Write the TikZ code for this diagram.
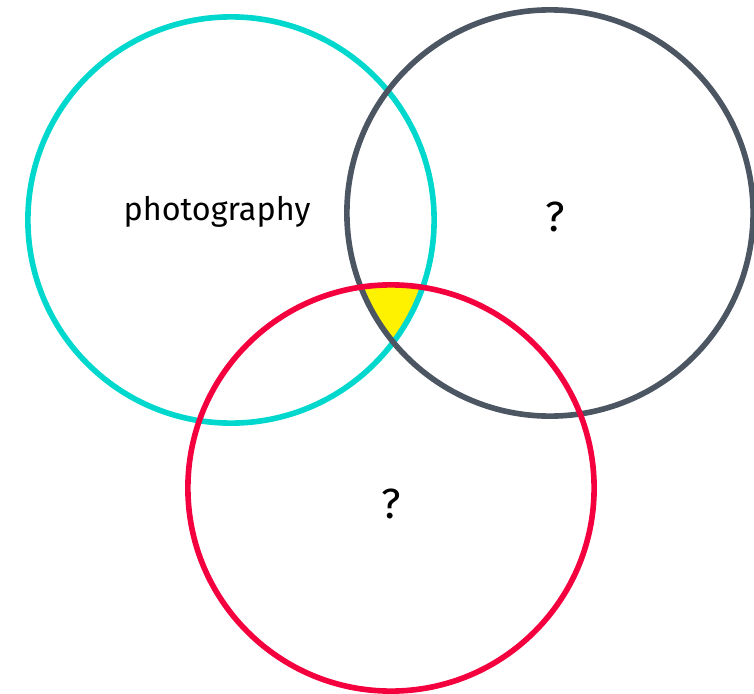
\documentclass[tikz,border=0pt]{standalone}
\usepackage{fontspec}
\setmainfont{Fira Sans}
\usepackage{xcolor}
\usetikzlibrary{positioning, backgrounds}

\definecolor{setcyan}{HTML}{00D8CE}
\definecolor{setgray}{HTML}{4C5562}
\definecolor{setred}{HTML}{F4003E}

\begin{document}
\begin{tikzpicture}[
  x=0.01cm, y=-0.01cm,
  set/.style={circle, draw, line width=1.6pt, minimum size=4.06cm, inner sep=0pt},
  word/.style={font=\fontsize{9.2}{11}\selectfont},
  ask/.style={font=\fontsize{12}{14}\selectfont}
]
\useasboundingbox (0, 0) rectangle (754, 694);

% three sets
\coordinate (cphoto) at (231, 220);
\coordinate (cright) at (550, 213);
\coordinate (cbottom) at (391, 488);

% common part of all three
\begin{scope}
  \clip (cphoto) circle (2.03cm);
  \clip (cright) circle (2.03cm);
  \fill[yellow] (cbottom) circle (2.03cm);
\end{scope}

\node[set, setcyan] (photo) at (cphoto) {};
\node[set, setgray] (right) at (cright) {};
\node[set, setred] (bottom) at (cbottom) {};

\node[word] (photolabel) at (217, 212) {photography};
\node[ask] (rightlabel) at (555, 217) {?};
\node[ask] (bottomlabel) at (391, 504) {?};
\end{tikzpicture}
\end{document}
